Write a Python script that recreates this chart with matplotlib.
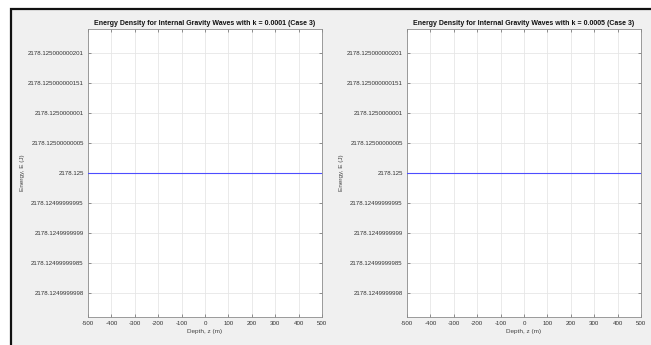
import matplotlib
matplotlib.use("Agg")
import matplotlib.pyplot as plt
from matplotlib.patches import Rectangle

plt.rcParams['font.family'] = ['Liberation Sans', 'DejaVu Sans']
plt.rcParams['axes.unicode_minus'] = False

# data
depth_z = [-500, 500]
energy = [2178.125, 2178.125]
k_values = ['0.0001', '0.0005']

x_ticks = [-500, -400, -300, -200, -100, 0, 100, 200, 300, 400, 500]
y_ticks = [2178.125 + 2e-10, 2178.125 + 1.5e-10, 2178.125 + 1e-10, 2178.125 + 5e-11,
           2178.125, 2178.125 - 5e-11, 2178.125 - 1e-10, 2178.125 - 1.5e-10, 2178.125 - 2e-10]
y_labels = ['2178.125000000201', '2178.125000000151', '2178.1250000001', '2178.12500000005',
            '2178.125', '2178.12499999995', '2178.1249999999', '2178.12499999985', '2178.1249999998']
y_lim = (2178.125 - 2.4e-10, 2178.125 + 2.4e-10)

W, H = 651, 345
fig = plt.figure(figsize=(W / 100, H / 100), dpi=100, facecolor='white')

# grey window area with the dark frame line (screenshot look)
fig.patches.append(Rectangle((11 / W, -0.05), 1.1, 1 - 9 / H + 0.05, transform=fig.transFigure,
                             facecolor='#f0f0f0', edgecolor='#111111', linewidth=1.6, zorder=-10))

lefts = [88, 407]
for i, left in enumerate(lefts):
    ax = fig.add_axes([left / W, 1 - 317 / H, 234 / W, 288 / H])
    ax.set_facecolor('white')
    ax.plot(depth_z, energy, color='#4d4dff', linewidth=0.8, zorder=3)
    ax.set_xlim(-500, 500)
    ax.set_ylim(*y_lim)
    ax.set_xticks(x_ticks)
    ax.set_yticks(y_ticks)
    ax.set_yticklabels(y_labels)
    ax.grid(True, color='#e6e6e6', linewidth=0.6)
    ax.set_axisbelow(True)
    ax.tick_params(direction='in', length=2, width=0.5, labelsize=4.4, colors='#666666',
                   labelcolor='#333333', top=True, right=True, pad=3)
    for s in ax.spines.values():
        s.set_color('#8c8c8c')
        s.set_linewidth(0.6)
    ax.set_title('Energy Density for Internal Gravity Waves with k = %s (Case 3)' % k_values[i],
                 fontsize=5.0, fontweight='bold', color='#111111', pad=3)
    ax.set_xlabel('Depth, z (m)', fontsize=4.6, color='#444444', labelpad=2)
    ax.set_ylabel('Energy, E (J)', fontsize=4.6, color='#444444', labelpad=2)

fig.savefig('out.png', dpi=100, facecolor='white')
